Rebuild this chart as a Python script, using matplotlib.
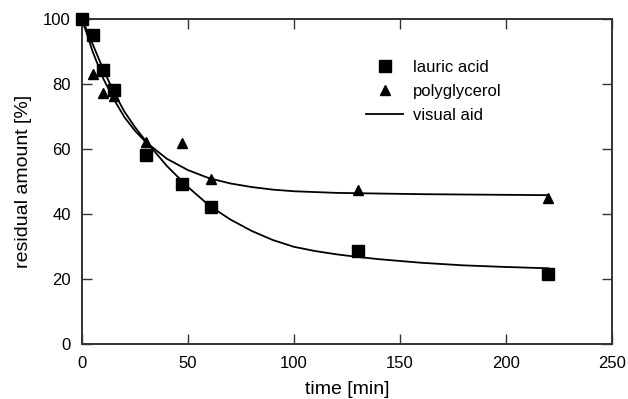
import matplotlib
matplotlib.use("Agg")
import matplotlib.pyplot as plt
from matplotlib.lines import Line2D

plt.rcParams["font.family"] = ["Liberation Sans", "DejaVu Sans"]

# measured points
lauric_t = [0, 5, 10, 15, 30, 47, 61, 130, 220]
lauric_y = [100, 95.2, 84.3, 78, 58.3, 49.3, 42.3, 28.6, 21.5]
poly_t = [0, 5, 10, 15, 30, 47, 61, 130, 220]
poly_y = [100, 83, 77.3, 76.3, 62.3, 62, 50.8, 47.3, 45]

# visual aid curves
lauric_ct = [0, 5, 10, 15, 20, 25, 30, 40, 50, 60, 70, 80, 90, 100, 110, 120, 130, 140, 160, 180, 200, 220]
lauric_curve = [100, 92.3, 84.5, 77.5, 71.5, 66.7, 62.5, 54.8, 48.3, 42.6, 38.3, 34.8, 32, 29.9, 28.6,
                27.6, 26.8, 26.1, 25, 24.2, 23.7, 23.3]
poly_ct = [0, 5, 10, 15, 20, 25, 30, 40, 50, 60, 70, 80, 90, 100, 120, 140, 160, 180, 200, 220]
poly_curve = [100, 90, 81.7, 75.3, 69.8, 65.6, 62.2, 57, 53.5, 51, 49.4, 48.3, 47.5, 47, 46.5, 46.3,
              46.1, 46, 45.9, 45.8]

xticks = [0, 50, 100, 150, 200, 250]
yticks = [0, 20, 40, 60, 80, 100]

fig = plt.figure(figsize=(6.28, 3.99), dpi=100)
ax = fig.add_axes([0.1306, 0.1378, 0.8439, 0.8146])

ax.plot(lauric_ct, lauric_curve, color="black", linewidth=1.3)
ax.plot(poly_ct, poly_curve, color="black", linewidth=1.3)
ax.plot(poly_t, poly_y, linestyle="none", marker="^", markersize=7.5, color="black",
        clip_on=False, zorder=4)
ax.plot(lauric_t, lauric_y, linestyle="none", marker="s", markersize=8.5, color="black",
        clip_on=False, zorder=5)

ax.set_xlim(0, 250)
ax.set_ylim(0, 100)
ax.set_xticks(xticks)
ax.set_yticks(yticks)
ax.tick_params(direction="in", length=7, width=1, top=True, right=True,
               labelsize=12, colors="#333333", labelcolor="black")
ax.tick_params(axis="x", pad=8.5)
ax.tick_params(axis="y", pad=8)
for s in ax.spines.values():
    s.set_linewidth(1.4)
    s.set_color("#333333")

ax.set_xlabel("time [min]", fontsize=14, labelpad=7)
ax.set_ylabel("residual amount [%]", fontsize=14, labelpad=8)

handles = [
    Line2D([], [], linestyle="none", marker="s", markersize=8.5, color="black"),
    Line2D([], [], linestyle="none", marker="^", markersize=7.5, color="black"),
    Line2D([], [], color="black", linewidth=1.3),
]
ax.legend(handles, ["lauric acid", "polyglycerol", "visual aid"], loc="upper left",
          bbox_to_anchor=(0.508, 0.92), frameon=False, fontsize=12,
          handlelength=2.2, handletextpad=0.6, labelspacing=0.55)

fig.savefig("out.png", dpi=100)
